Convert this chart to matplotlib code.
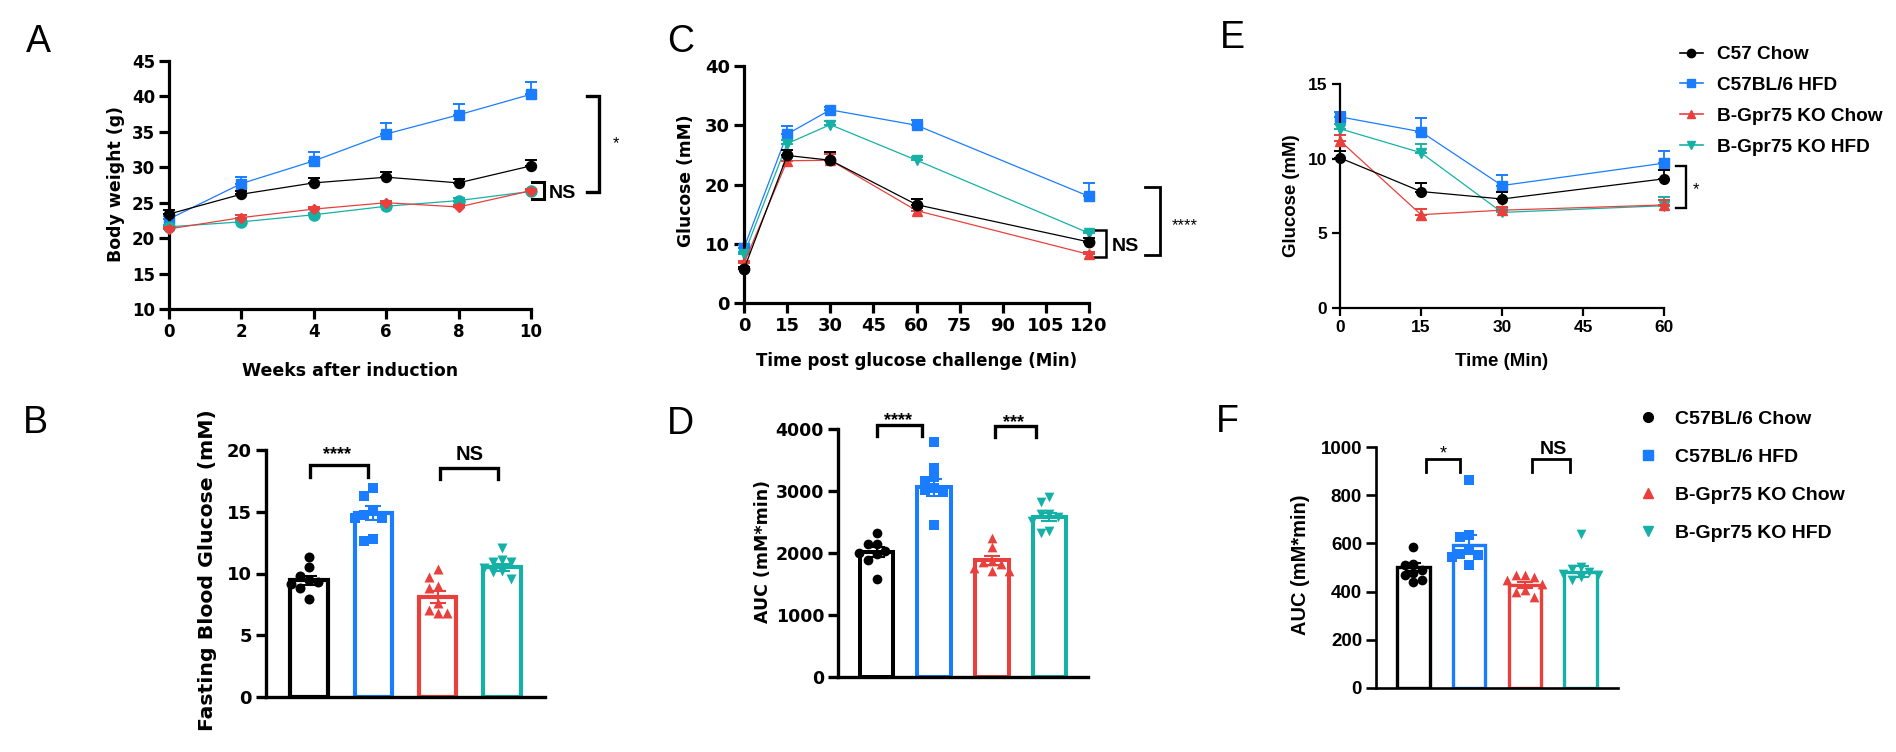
import numpy as np
import matplotlib
matplotlib.use('Agg')
import matplotlib.pyplot as plt
from matplotlib.lines import Line2D

ARIAL = 'Liberation Sans'
WIDE = 'DejaVu Sans'

COLORS = ['#000000', '#1a7cff', '#e8403c', '#16b1a6']
LEGEND_E = ['C57 Chow', 'C57BL/6 HFD', 'B-Gpr75 KO Chow', 'B-Gpr75 KO HFD']
LEGEND_F = ['C57BL/6 Chow', 'C57BL/6 HFD', 'B-Gpr75 KO Chow', 'B-Gpr75 KO HFD']

# ---- A: body weight
weeks = [0, 2, 4, 6, 8, 10]
bw_c57_chow = [23.4, 26.2, 27.8, 28.6, 27.8, 30.2]
bw_c57_hfd = [22.7, 27.7, 30.9, 34.7, 37.4, 40.3]
bw_ko_chow = [21.3, 22.9, 24.1, 25.0, 24.4, 26.7]
bw_ko_hfd = [21.6, 22.3, 23.3, 24.5, 25.3, 26.6]
bw_c57_chow_err = [0.6, 0.4, 0.7, 0.8, 0.6, 0.8]
bw_c57_hfd_err = [0.4, 0.9, 1.3, 1.5, 1.6, 1.7]
bw_ko_chow_err = [0.3, 0.3, 0.3, 0.3, 0.3, 0.3]
bw_ko_hfd_err = [0.3, 0.3, 0.3, 0.3, 0.3, 0.3]

# ---- C: GTT
gtt_min = [0, 15, 30, 60, 120]
gtt_c57_chow = [5.7, 24.9, 24.1, 16.6, 10.3]
gtt_c57_hfd = [9.3, 28.5, 32.6, 30.0, 18.0]
gtt_ko_chow = [6.7, 24.0, 24.1, 15.6, 8.2]
gtt_ko_hfd = [8.2, 26.9, 30.1, 24.1, 11.8]
gtt_c57_chow_err = [0.4, 0.9, 1.4, 1.0, 0.6]
gtt_c57_hfd_err = [0.5, 1.3, 0.5, 0.9, 2.2]
gtt_ko_chow_err = [0.4, 0.6, 1.0, 0.5, 0.4]
gtt_ko_hfd_err = [0.4, 0.6, 0.6, 0.5, 0.4]

# ---- E: ITT
itt_min = [0, 15, 30, 60]
itt_c57_chow = [10.05, 7.8, 7.3, 8.65]
itt_c57_hfd = [12.8, 11.8, 8.2, 9.7]
itt_ko_chow = [11.2, 6.25, 6.55, 6.9]
itt_ko_hfd = [12.0, 10.4, 6.4, 6.85]
itt_c57_chow_err = [0.45, 0.6, 0.45, 0.6]
itt_c57_hfd_err = [0.35, 0.9, 0.7, 0.8]
itt_ko_chow_err = [0.4, 0.4, 0.2, 0.3]
itt_ko_hfd_err = [0.3, 0.6, 0.2, 0.55]

# ---- B: fasting blood glucose
fbg_means = [9.45, 14.9, 8.1, 10.5]
fbg_c57_chow = [11.3, 10.5, 9.8, 9.5, 9.3, 9.15, 8.85, 7.9]
fbg_c57_hfd = [16.9, 16.3, 15.1, 14.7, 14.5, 14.5, 12.8, 12.6]
fbg_ko_chow = [10.35, 9.75, 9.0, 8.8, 7.65, 7.05, 6.8, 6.8]
fbg_ko_hfd = [12.05, 11.1, 10.97, 10.9, 10.45, 10.2, 10.1, 9.55]

# ---- D: GTT AUC
gauc_means = [2013, 3060, 1880, 2580]
gauc_c57_chow = [2315, 2143, 2143, 2035, 2008, 1980, 1890, 1577]
gauc_c57_hfd = [3785, 3370, 3220, 3165, 3050, 3015, 2980, 2450]
gauc_ko_chow = [2250, 2090, 1873, 1850, 1820, 1765, 1712, 1712]
gauc_ko_hfd = [2907, 2816, 2627, 2627, 2573, 2520, 2347, 2330]

# ---- F: ITT AUC
iauc_means = [502, 595, 427, 483]
iauc_c57_chow = [585, 516, 509, 488, 477, 467, 447, 440]
iauc_c57_hfd = [862, 633, 627, 571, 557, 553, 544, 509]
iauc_ko_chow = [467, 467, 461, 447, 433, 405, 398, 378]
iauc_ko_hfd = [638, 502, 495, 481, 474, 467, 461, 447]

W, H = 1896, 752
fig = plt.figure(figsize=(W / 100, H / 100), dpi=100)


def add_ax(x0, y0, x1, y1):
    return fig.add_axes([x0 / W, 1 - y1 / H, (x1 - x0) / W, (y1 - y0) / H])


def style(ax, lw, tlen=7):
    for s in ['top', 'right']:
        ax.spines[s].set_visible(False)
    for s in ['left', 'bottom']:
        ax.spines[s].set_linewidth(lw)
    ax.tick_params(width=lw, length=tlen, pad=3, direction='out')


def font(family, size, weight='bold'):
    return dict(fontfamily=family, fontweight=weight, fontsize=size)


def bracket_right(ax, x0, x1, y0, y1, lw):
    ax.plot([x0, x1, x1, x0], [y1, y1, y0, y0], color='black', lw=lw, clip_on=False,
            solid_joinstyle='miter')


def bracket_top(ax, x0, x1, y0, y1, lw):
    ax.plot([x0, x0, x1, x1], [y0, y1, y1, y0], color='black', lw=lw, clip_on=False,
            solid_joinstyle='miter')


def line_panel(ax, x, series, errs, markers, sizes):
    for z, i in enumerate([1, 3, 2, 0]):
        ax.errorbar(x, series[i], yerr=[np.zeros(len(x)), errs[i]], fmt='none',
                    ecolor=COLORS[i], elinewidth=1.3, capsize=4.3, capthick=1.4, zorder=2 + z,
                    clip_on=False)
        ax.plot(x, series[i], color=COLORS[i], lw=0.9, marker=markers[i], ms=sizes[i],
                zorder=2.5 + z, clip_on=False)


def swarm(ax, xc, vals, dpx, step):
    order = np.argsort(vals)[::-1]
    placed = []
    xs = np.zeros(len(vals))
    for i in order:
        for k in [0, -1, 1, -2, 2, -3, 3, -4, 4]:
            p = ax.transData.transform((xc + k * step, vals[i]))
            if all(np.hypot(*(p - q)) >= dpx for q in placed):
                break
        placed.append(p)
        xs[i] = xc + k * step
    return xs


def bar_panel(ax, means, points, ms, lw, spine_lw, ylim, yticks, tfont):
    xs = np.arange(4)
    ax.set_xlim(-0.67, 3.67)
    ax.set_ylim(*ylim)
    ax.bar(xs, means, width=0.58, facecolor='white', edgecolor=COLORS, linewidth=lw, zorder=1)
    for i, m in enumerate(['o', 's', '^', 'v']):
        pts = np.array(points[i], dtype=float)
        sem = pts.std(ddof=1) / np.sqrt(len(pts))
        ax.errorbar(xs[i], means[i], yerr=sem, fmt='none', ecolor=COLORS[i], elinewidth=1.5,
                    capsize=6, capthick=1.5, zorder=2)
        dpx = ms * 100 / 72 * 0.9
        step = dpx / (ax.transData.transform((1, 0))[0] - ax.transData.transform((0, 0))[0])
        px = swarm(ax, xs[i], pts, dpx, step)
        ax.scatter(px, pts, s=ms ** 2, marker=m, color=COLORS[i], linewidths=0,
                   zorder=3, clip_on=False)
    style(ax, spine_lw)
    ax.set_xticks([])
    ax.tick_params(axis='x', length=0)
    ax.set_yticks(yticks, [str(t) for t in yticks], **tfont)


# ---------------- A
axA = add_ax(169, 61, 531, 309)
axA.set_xlim(0, 10)
axA.set_ylim(10, 45)
line_panel(axA, weeks, [bw_c57_chow, bw_c57_hfd, bw_ko_chow, bw_ko_hfd],
           [bw_c57_chow_err, bw_c57_hfd_err, bw_ko_chow_err, bw_ko_hfd_err],
           ['o', 's', 'D', 'o'], [7.2, 7.8, 5.2, 8])
style(axA, 2.3)
axA.set_xticks(weeks, [str(w) for w in weeks], **font(WIDE, 12))
axA.set_yticks(range(10, 46, 5), [str(t) for t in range(10, 46, 5)], **font(WIDE, 12))
axA.set_xlabel('Weeks after induction', **font(WIDE, 12.5))
axA.set_ylabel('Body weight (g)', **font(WIDE, 12.5))
axA.xaxis.set_label_coords(0.5, -0.214)
axA.yaxis.set_label_coords(-0.122, 0.506)
bracket_right(axA, 10.03, 10.36, 25.55, 27.9, 2.2)
axA.text(10.5, 25.7, 'NS', va='baseline', **font(ARIAL, 14))
bracket_right(axA, 11.56, 11.87, 26.5, 40.1, 2.4)
axA.text(12.36, 33.4, '*', ha='center', va='center', **font(ARIAL, 12, 'normal'))

# ---------------- C
axC = add_ax(744, 66, 1089, 303)
axC.set_xlim(0, 120)
axC.set_ylim(0, 40)
line_panel(axC, gtt_min, [gtt_c57_chow, gtt_c57_hfd, gtt_ko_chow, gtt_ko_hfd],
           [gtt_c57_chow_err, gtt_c57_hfd_err, gtt_ko_chow_err, gtt_ko_hfd_err],
           ['o', 's', '^', 'v'], [7.5, 7.8, 7.2, 7.2])
style(axC, 2.3)
ct = list(range(0, 121, 15))
axC.set_xticks(ct, [str(t) for t in ct], **font(WIDE, 13))
axC.set_yticks(range(0, 41, 10), [str(t) for t in range(0, 41, 10)], **font(WIDE, 13))
axC.set_xlabel('Time post glucose challenge (Min)', **font(WIDE, 12))
axC.set_ylabel('Glucose (mM)', **font(WIDE, 12.3))
axC.xaxis.set_label_coords(0.5, -0.205)
axC.yaxis.set_label_coords(-0.143, 0.515)
bracket_right(axC, 121.9, 126, 7.8, 12.3, 1.8)
axC.text(128, 8.7, 'NS', va='baseline', **font(ARIAL, 14))
bracket_right(axC, 139.4, 144.6, 8.15, 19.5, 2)
axC.text(148.9, 13.0, '****', ha='left', va='center', **font(ARIAL, 12, 'normal'))

# ---------------- E
axE = add_ax(1340, 84, 1664, 308)
axE.set_xlim(0, 60)
axE.set_ylim(0, 15)
line_panel(axE, itt_min, [itt_c57_chow, itt_c57_hfd, itt_ko_chow, itt_ko_hfd],
           [itt_c57_chow_err, itt_c57_hfd_err, itt_ko_chow_err, itt_ko_hfd_err],
           ['o', 's', '^', 'v'], [7, 7.2, 7, 7])
style(axE, 1.6, 6)
et = [0, 15, 30, 45, 60]
axE.set_xticks(et, [str(t) for t in et], **font(ARIAL, 12.5))
axE.set_yticks([0, 5, 10, 15], ['0', '5', '10', '15'], **font(ARIAL, 12.5))
axE.set_xlabel('Time (Min)', **font(ARIAL, 13.5))
axE.set_ylabel('Glucose (mM)', **font(ARIAL, 13.4))
axE.xaxis.set_label_coords(0.5, -0.2)
axE.yaxis.set_label_coords(-0.123, 0.5)
bracket_right(axE, 62.3, 64.1, 6.67, 9.54, 1.7)
axE.text(66.0, 7.9, '*', ha='center', va='center', **font(ARIAL, 12, 'normal'))

hE = [Line2D([], [], color=c, marker=m, ms=6, lw=1.2) for c, m in zip(COLORS, ['o', 's', '^', 'v'])]
fig.legend(hE, LEGEND_E, loc='upper left', bbox_to_anchor=(1680 / W, 1 - 46 / H), frameon=False,
           prop={'family': ARIAL, 'weight': 'bold', 'size': 13.7}, handlelength=1.2,
           handletextpad=0.74, labelspacing=0.71, borderpad=0, borderaxespad=0)

# ---------------- B
axB = add_ax(266, 450, 545, 697)
bar_panel(axB, fbg_means, [fbg_c57_chow, fbg_c57_hfd, fbg_ko_chow, fbg_ko_hfd],
          7.2, 3, 2.4, (0, 20), [0, 5, 10, 15, 20], font(WIDE, 13))
axB.set_ylabel('Fasting Blood Glucose (mM)', **font(WIDE, 14.7))
axB.yaxis.set_label_coords(-0.176, 0.514)
bracket_top(axB, 0.01, 0.91, 17.85, 18.8, 2.4)
axB.text(0.44, 19.6, '****', ha='center', va='center', **font(ARIAL, 13))
bracket_top(axB, 2.04, 2.94, 17.65, 18.52, 2.4)
axB.text(2.49, 19.2, 'NS', ha='center', va='baseline', **font(ARIAL, 14.5))

# ---------------- D
axD = add_ax(838, 429, 1088, 677)
bar_panel(axD, gauc_means, [gauc_c57_chow, gauc_c57_hfd, gauc_ko_chow, gauc_ko_hfd],
          7, 2.9, 2.4, (0, 4000), [0, 1000, 2000, 3000, 4000], font(WIDE, 12.5))
axD.set_ylabel('AUC (mM*min)', **font(WIDE, 12.5))
axD.yaxis.set_label_coords(-0.265, 0.505)
bracket_top(axD, 0.0, 0.79, 3892, 4065, 2.4)
axD.text(0.38, 4130, '****', ha='center', va='center', **font(ARIAL, 13))
bracket_top(axD, 2.06, 2.76, 3864, 4048, 2.4)
axD.text(2.37, 4100, '***', ha='center', va='center', **font(ARIAL, 13))

# ---------------- F
axF = add_ax(1376, 447, 1618, 688)
bar_panel(axF, iauc_means, [iauc_c57_chow, iauc_c57_hfd, iauc_ko_chow, iauc_ko_hfd],
          7, 2.4, 1.9, (0, 1000), [0, 200, 400, 600, 800, 1000], font(ARIAL, 13.5))
axF.set_ylabel('AUC (mM*min)', **font(ARIAL, 14.4))
axF.yaxis.set_label_coords(-0.273, 0.51)
bracket_top(axF, 0.22, 0.84, 897, 949, 2)
axF.text(0.54, 970, '*', ha='center', va='center', **font(ARIAL, 13, 'normal'))
bracket_top(axF, 2.13, 2.81, 897, 949, 2)
axF.text(2.51, 971, 'NS', ha='center', va='baseline', **font(ARIAL, 14))

hF = [Line2D([], [], color=c, marker=m, ms=7, lw=0) for c, m in zip(COLORS, ['o', 's', '^', 'v'])]
fig.legend(hF, LEGEND_F, loc='upper left', bbox_to_anchor=(1638 / W, 1 - 410.6 / H), frameon=False,
           prop={'family': ARIAL, 'weight': 'bold', 'size': 14}, handlelength=1.0,
           handletextpad=0.9, labelspacing=1.05, borderpad=0, borderaxespad=0)

# panel letters
for letter, x, y in [('A', 38, 52), ('C', 680.5, 52), ('E', 1232.5, 48),
                     ('B', 35, 433), ('D', 680, 434), ('F', 1227, 432)]:
    fig.text(x / W, 1 - y / H, letter, fontfamily=ARIAL, fontsize=27, ha='center', va='baseline')

fig.savefig('out.png', dpi=100)
